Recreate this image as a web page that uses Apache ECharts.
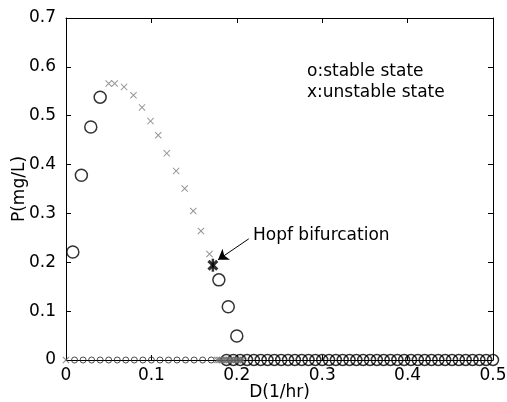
<!DOCTYPE html>
<html>
<head>
<meta charset="utf-8">
<script src="https://cdn.jsdelivr.net/npm/echarts@6/dist/echarts.min.js"></script>
<style>html,body{margin:0;padding:0;background:#fff;}#c{width:507px;height:402px;}</style>
</head>
<body>
<div id="c"></div>
<script>
// ---- data ----
const xTicks = [0, 0.1, 0.2, 0.3, 0.4, 0.5];
const yTicks = [0, 0.1, 0.2, 0.3, 0.4, 0.5, 0.6, 0.7];
const stableUpperD = [0.008, 0.018, 0.029, 0.040];
const stableUpperP = [0.221, 0.378, 0.477, 0.538];
const stableLowerD = [0.179, 0.190, 0.200];
const stableLowerP = [0.164, 0.109, 0.049];
const unstableD = [0.050, 0.057, 0.068, 0.079, 0.089, 0.099, 0.108, 0.118, 0.129, 0.139, 0.149, 0.158, 0.168];
const unstableP = [0.566, 0.566, 0.559, 0.542, 0.517, 0.489, 0.460, 0.423, 0.387, 0.351, 0.305, 0.264, 0.217];
const hopfD = [0.172];
const hopfP = [0.194];
const washoutSmallD = [0.01, 0.02, 0.03, 0.04, 0.05, 0.06, 0.07, 0.08, 0.09, 0.10, 0.11, 0.12, 0.13, 0.14, 0.15, 0.16, 0.17];
const washoutUnstableD = [0.000, 0.177, 0.179, 0.181, 0.183, 0.185, 0.187, 0.189, 0.191, 0.193, 0.195, 0.197, 0.199, 0.201, 0.203, 0.205, 0.207];
const washoutStableD = [0.188, 0.196, 0.204, 0.212, 0.220, 0.228, 0.236, 0.244, 0.252, 0.260, 0.268, 0.276, 0.284, 0.292, 0.300, 0.308, 0.316, 0.324, 0.332, 0.340, 0.348, 0.356, 0.364, 0.372, 0.380, 0.388, 0.396, 0.404, 0.412, 0.420, 0.428, 0.436, 0.444, 0.452, 0.460, 0.468, 0.476, 0.484, 0.492, 0.500];
const arrowFrom = [0.214, 0.248];
const arrowTo = [0.178, 0.205];

const pair = (xs, ys) => xs.map((x, i) => [x, ys[i]]);
const zeros = xs => xs.map(x => [x, 0]);

const FONT = '"DejaVu Sans", sans-serif';
const crossPath = 'path://M0,1L1,0L5,4L9,0L10,1L6,5L10,9L9,10L5,6L1,10L0,9L4,5Z';
const xStarPath = 'path://M0,2L2,0L5,3L8,0L10,2L7,5L10,8L8,10L5,7L2,10L0,8L3,5Z';

const circleStyle = {color: 'rgba(0,0,0,0)', borderColor: '#000', borderWidth: 1.5};

const chart = echarts.init(document.getElementById('c'), null, {renderer: 'canvas'});
const axisCommon = {
  min: 0, interval: 0.1,
  axisLine: {show: true, onZero: false, lineStyle: {color: '#000', width: 1}},
  axisTick: {show: true, inside: true, length: 5, lineStyle: {color: '#000'}},
  splitLine: {show: false}
};
chart.setOption({
  animation: false,
  backgroundColor: '#fff',
  grid: {left: 66, right: 14, top: 18, bottom: 42, containLabel: false, outerBoundsMode: 'none'},
  xAxis: [
    Object.assign({}, axisCommon, {
      type: 'value', max: xTicks[xTicks.length - 1], position: 'bottom',
      name: 'D(1/hr)', nameLocation: 'middle', nameGap: 33, nameMoveOverlap: false,
      nameTextStyle: {fontFamily: FONT, fontSize: 17, color: '#000', verticalAlign: 'middle'},
      axisLabel: {fontFamily: FONT, fontSize: 17, color: '#000', margin: 7,
        formatter: v => xTicks.includes(+v.toFixed(2)) ? String(+v.toFixed(2)) : ''}
    }),
    Object.assign({}, axisCommon, {
      type: 'value', max: xTicks[xTicks.length - 1], position: 'top',
      axisLabel: {show: false}
    })
  ],
  yAxis: [
    Object.assign({}, axisCommon, {
      type: 'value', max: yTicks[yTicks.length - 1], position: 'left',
      name: 'P(mg/L)', nameLocation: 'middle', nameGap: 46, nameRotate: 90, nameMoveOverlap: false,
      nameTextStyle: {fontFamily: FONT, fontSize: 17, color: '#000', verticalAlign: 'middle'},
      axisLabel: {fontFamily: FONT, fontSize: 17, color: '#000', margin: 10,
        formatter: v => yTicks.includes(+v.toFixed(2)) ? String(+v.toFixed(2)) : ''}
    }),
    Object.assign({}, axisCommon, {
      type: 'value', max: yTicks[yTicks.length - 1], position: 'right',
      axisLabel: {show: false}
    })
  ],
  series: [
    {type: 'scatter', clip: false, data: zeros(washoutStableD), symbol: 'circle', symbolSize: 11,
     itemStyle: circleStyle, z: 3, silent: true},
    {type: 'scatter', clip: false, data: zeros(washoutSmallD), symbol: 'circle', symbolSize: 6,
     itemStyle: {color: 'rgba(0,0,0,0)', borderColor: '#222', borderWidth: 1}, z: 3, silent: true},
    {type: 'scatter', clip: false, data: zeros(washoutUnstableD), symbol: crossPath, symbolSize: 7,
     itemStyle: {color: '#6a6a6a'}, z: 4, silent: true},
    {type: 'scatter', clip: false, data: pair(stableUpperD, stableUpperP), symbol: 'circle', symbolSize: 12,
     itemStyle: circleStyle, z: 3, silent: true},
    {type: 'scatter', clip: false, data: pair(stableLowerD, stableLowerP), symbol: 'circle', symbolSize: 12,
     itemStyle: circleStyle, z: 3, silent: true},
    {type: 'scatter', clip: false, data: pair(unstableD, unstableP), symbol: crossPath, symbolSize: 7,
     itemStyle: {color: '#7a7a7a'}, z: 3, silent: true},
    {type: 'scatter', clip: false, data: pair(hopfD, hopfP), symbol: xStarPath, symbolSize: 11,
     itemStyle: {color: '#000'}, z: 5, silent: true,
     markLine: {
       silent: true, symbol: ['none', 'arrow'], symbolSize: 10,
       label: {show: false},
       lineStyle: {color: '#000', width: 1, type: 'solid'},
       data: [[{coord: arrowFrom}, {coord: arrowTo}]]
     }},
    {type: 'scatter', clip: false, data: pair(hopfD, hopfP), symbol: 'rect', symbolSize: [2.5, 13],
     itemStyle: {color: '#000'}, z: 5, silent: true}
  ],
  graphic: [
    {type: 'text', left: 253, top: 227, style: {text: 'Hopf bifurcation', fontFamily: FONT, fontSize: 17, fill: '#000'}},
    {type: 'text', left: 307, top: 63, style: {text: 'o:stable state', fontFamily: FONT, fontSize: 17, fill: '#000'}},
    {type: 'text', left: 307, top: 84, style: {text: 'x:unstable state', fontFamily: FONT, fontSize: 17, fill: '#000'}}
  ]
});
</script>
</body>
</html>
